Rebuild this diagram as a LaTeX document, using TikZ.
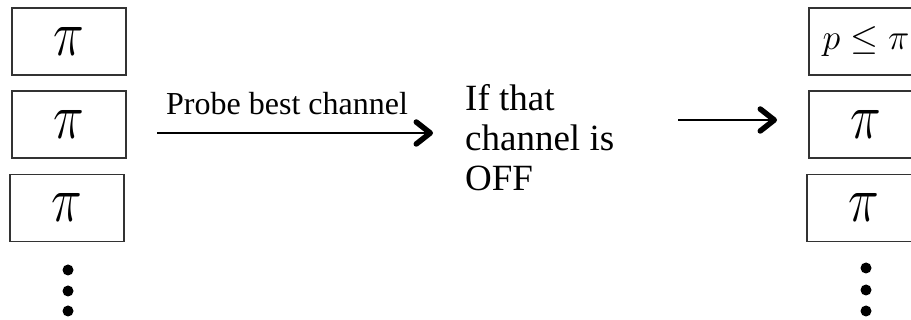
\RequirePackage{fix-cm}
\documentclass[tikz,border=0pt]{standalone}
\usepackage{fontspec}
\setmainfont{Liberation Serif}
\usetikzlibrary{arrows.meta}
\newcommand{\bigpi}[1]{\raisebox{#1}{\scalebox{1}[1.25]{$\pi$}}}
\begin{document}
\begin{tikzpicture}[x=1pt,y=-1pt,
  slot/.style={draw=black!80, line width=1.3pt, minimum width=114pt,
    minimum height=67pt, inner sep=0pt, outer sep=0pt,
    font=\fontsize{52}{52}\selectfont},
  probslot/.style={slot, font=\fontsize{36}{36}\selectfont},
  dot/.style={circle, fill=black, minimum size=11pt, inner sep=0pt},
  flow/.style={line width=2pt,
    -{Straight Barb[length=14pt,width=22pt,line width=5.5pt,round]}},
  label/.style={font=\fontsize{32}{32}\selectfont, inner sep=0pt},
  cond/.style={font=\fontsize{37}{40}\selectfont, align=left, inner sep=0pt}
]
\useasboundingbox (0,0) rectangle (911,320);
\clip (0,0) rectangle (911,320);

% channel list before probing
\node[slot] (l1) at (69,41.5) {\bigpi{-4pt}};
\node[slot] (l2) at (69,124.5) {\bigpi{-4pt}};
\node[slot] (l3) at (67,208) {\bigpi{-3pt}};
\node[dot] (ld1) at (68,270) {};
\node[dot] (ld2) at (68,291) {};
\node[dot] (ld3) at (68,311) {};

% probing step
\coordinate (p1) at (157,133);
\coordinate (p2) at (433,133);
\draw[flow] (p1) -- (p2);
\node[label, anchor=base west] (probe) at (166,115) {Probe best channel};

% the base anchor of this node sits on its last line
\node[cond, anchor=base west] (off) at (465,191) {If that\\channel is\\OFF};

\coordinate (q1) at (678,120);
\coordinate (q2) at (777,120);
\draw[flow] (q1) -- (q2);

% channel list after an OFF observation
\node[probslot] (r1) at (866,41.5) {$p \le \pi$};
\node[slot] (r2) at (866,124.5) {\bigpi{-4pt}};
\node[slot] (r3) at (864,208) {\bigpi{-3pt}};
\node[dot] (rd1) at (866,268) {};
\node[dot] (rd2) at (866,290) {};
\node[dot] (rd3) at (866,311) {};
\end{tikzpicture}
\end{document}
